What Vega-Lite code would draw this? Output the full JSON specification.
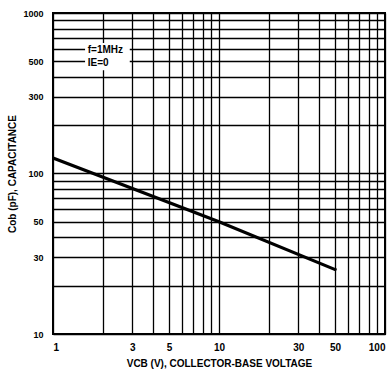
{
  "$schema": "https://vega.github.io/schema/vega-lite/v6.json",
  "width": 332,
  "height": 321,
  "autosize": {"type": "none"},
  "padding": {"left": 53, "top": 13, "right": 7, "bottom": 51},
  "background": "white",
  "config": {
    "view": {"stroke": "black", "strokeWidth": 2},
    "axis": {
      "grid": true,
      "gridColor": "black",
      "gridOpacity": 1,
      "gridWidth": 1.3,
      "domain": false,
      "ticks": false,
      "labelColor": "black",
      "titleColor": "black",
      "labelFont": "Liberation Sans",
      "titleFont": "Liberation Sans",
      "labelFontWeight": "bold",
      "titleFontWeight": "bold",
      "labelFontSize": 10,
      "titleFontSize": 10
    }
  },
  "layer": [
    {
      "data": {"values": [{"v": 1.56, "v2": 2.9, "c": 440, "c2": 650}]},
      "mark": {"type": "rect", "fill": "white"},
      "encoding": {
        "x": {"field": "v", "type": "quantitative"},
        "x2": {"field": "v2"},
        "y": {"field": "c", "type": "quantitative"},
        "y2": {"field": "c2"}
      }
    },
    {
      "data": {"values": [{"v": 1, "c": 125}, {"v": 10, "c": 50}, {"v": 51, "c": 25}]},
      "mark": {"type": "line", "color": "black", "strokeWidth": 3.2},
      "encoding": {
        "x": {
          "field": "v",
          "type": "quantitative",
          "scale": {"type": "log", "domain": [1, 100], "nice": false},
          "axis": {
            "title": "VCB (V), COLLECTOR-BASE VOLTAGE",
            "values": [1, 2, 3, 4, 5, 6, 7, 8, 9, 10, 20, 30, 40, 50, 60, 70, 80, 90, 100],
            "labelExpr": "indexof([1,3,5,10,30,50,100], datum.value) >= 0 ? '' + datum.value : ''",
            "labelPadding": 8,
            "titlePadding": 6,
            "labelFlush": true,
            "labelOverlap": false
          }
        },
        "y": {
          "field": "c",
          "type": "quantitative",
          "scale": {"type": "log", "domain": [10, 1000], "nice": false},
          "axis": {
            "title": "Cob (pF), CAPACITANCE",
            "values": [10, 20, 30, 40, 50, 60, 70, 80, 90, 100, 200, 300, 400, 500, 600, 700, 800, 900, 1000],
            "labelExpr": "indexof([10,30,50,100,300,500,1000], datum.value) >= 0 ? '' + datum.value : ''",
            "labelPadding": 10,
            "titlePadding": 5,
            "labelFontSize": 9,
            "labelFlush": false,
            "labelOverlap": false
          }
        }
      }
    },
    {
      "data": {"values": [{"v": 1.62, "c": 590, "t": "f=1MHz"}, {"v": 1.62, "c": 488, "t": "IE=0"}]},
      "mark": {"type": "text", "align": "left", "baseline": "middle", "font": "Liberation Sans", "fontWeight": "bold", "fontSize": 10, "color": "black"},
      "encoding": {
        "x": {"field": "v", "type": "quantitative"},
        "y": {"field": "c", "type": "quantitative"},
        "text": {"field": "t"}
      }
    }
  ]
}
